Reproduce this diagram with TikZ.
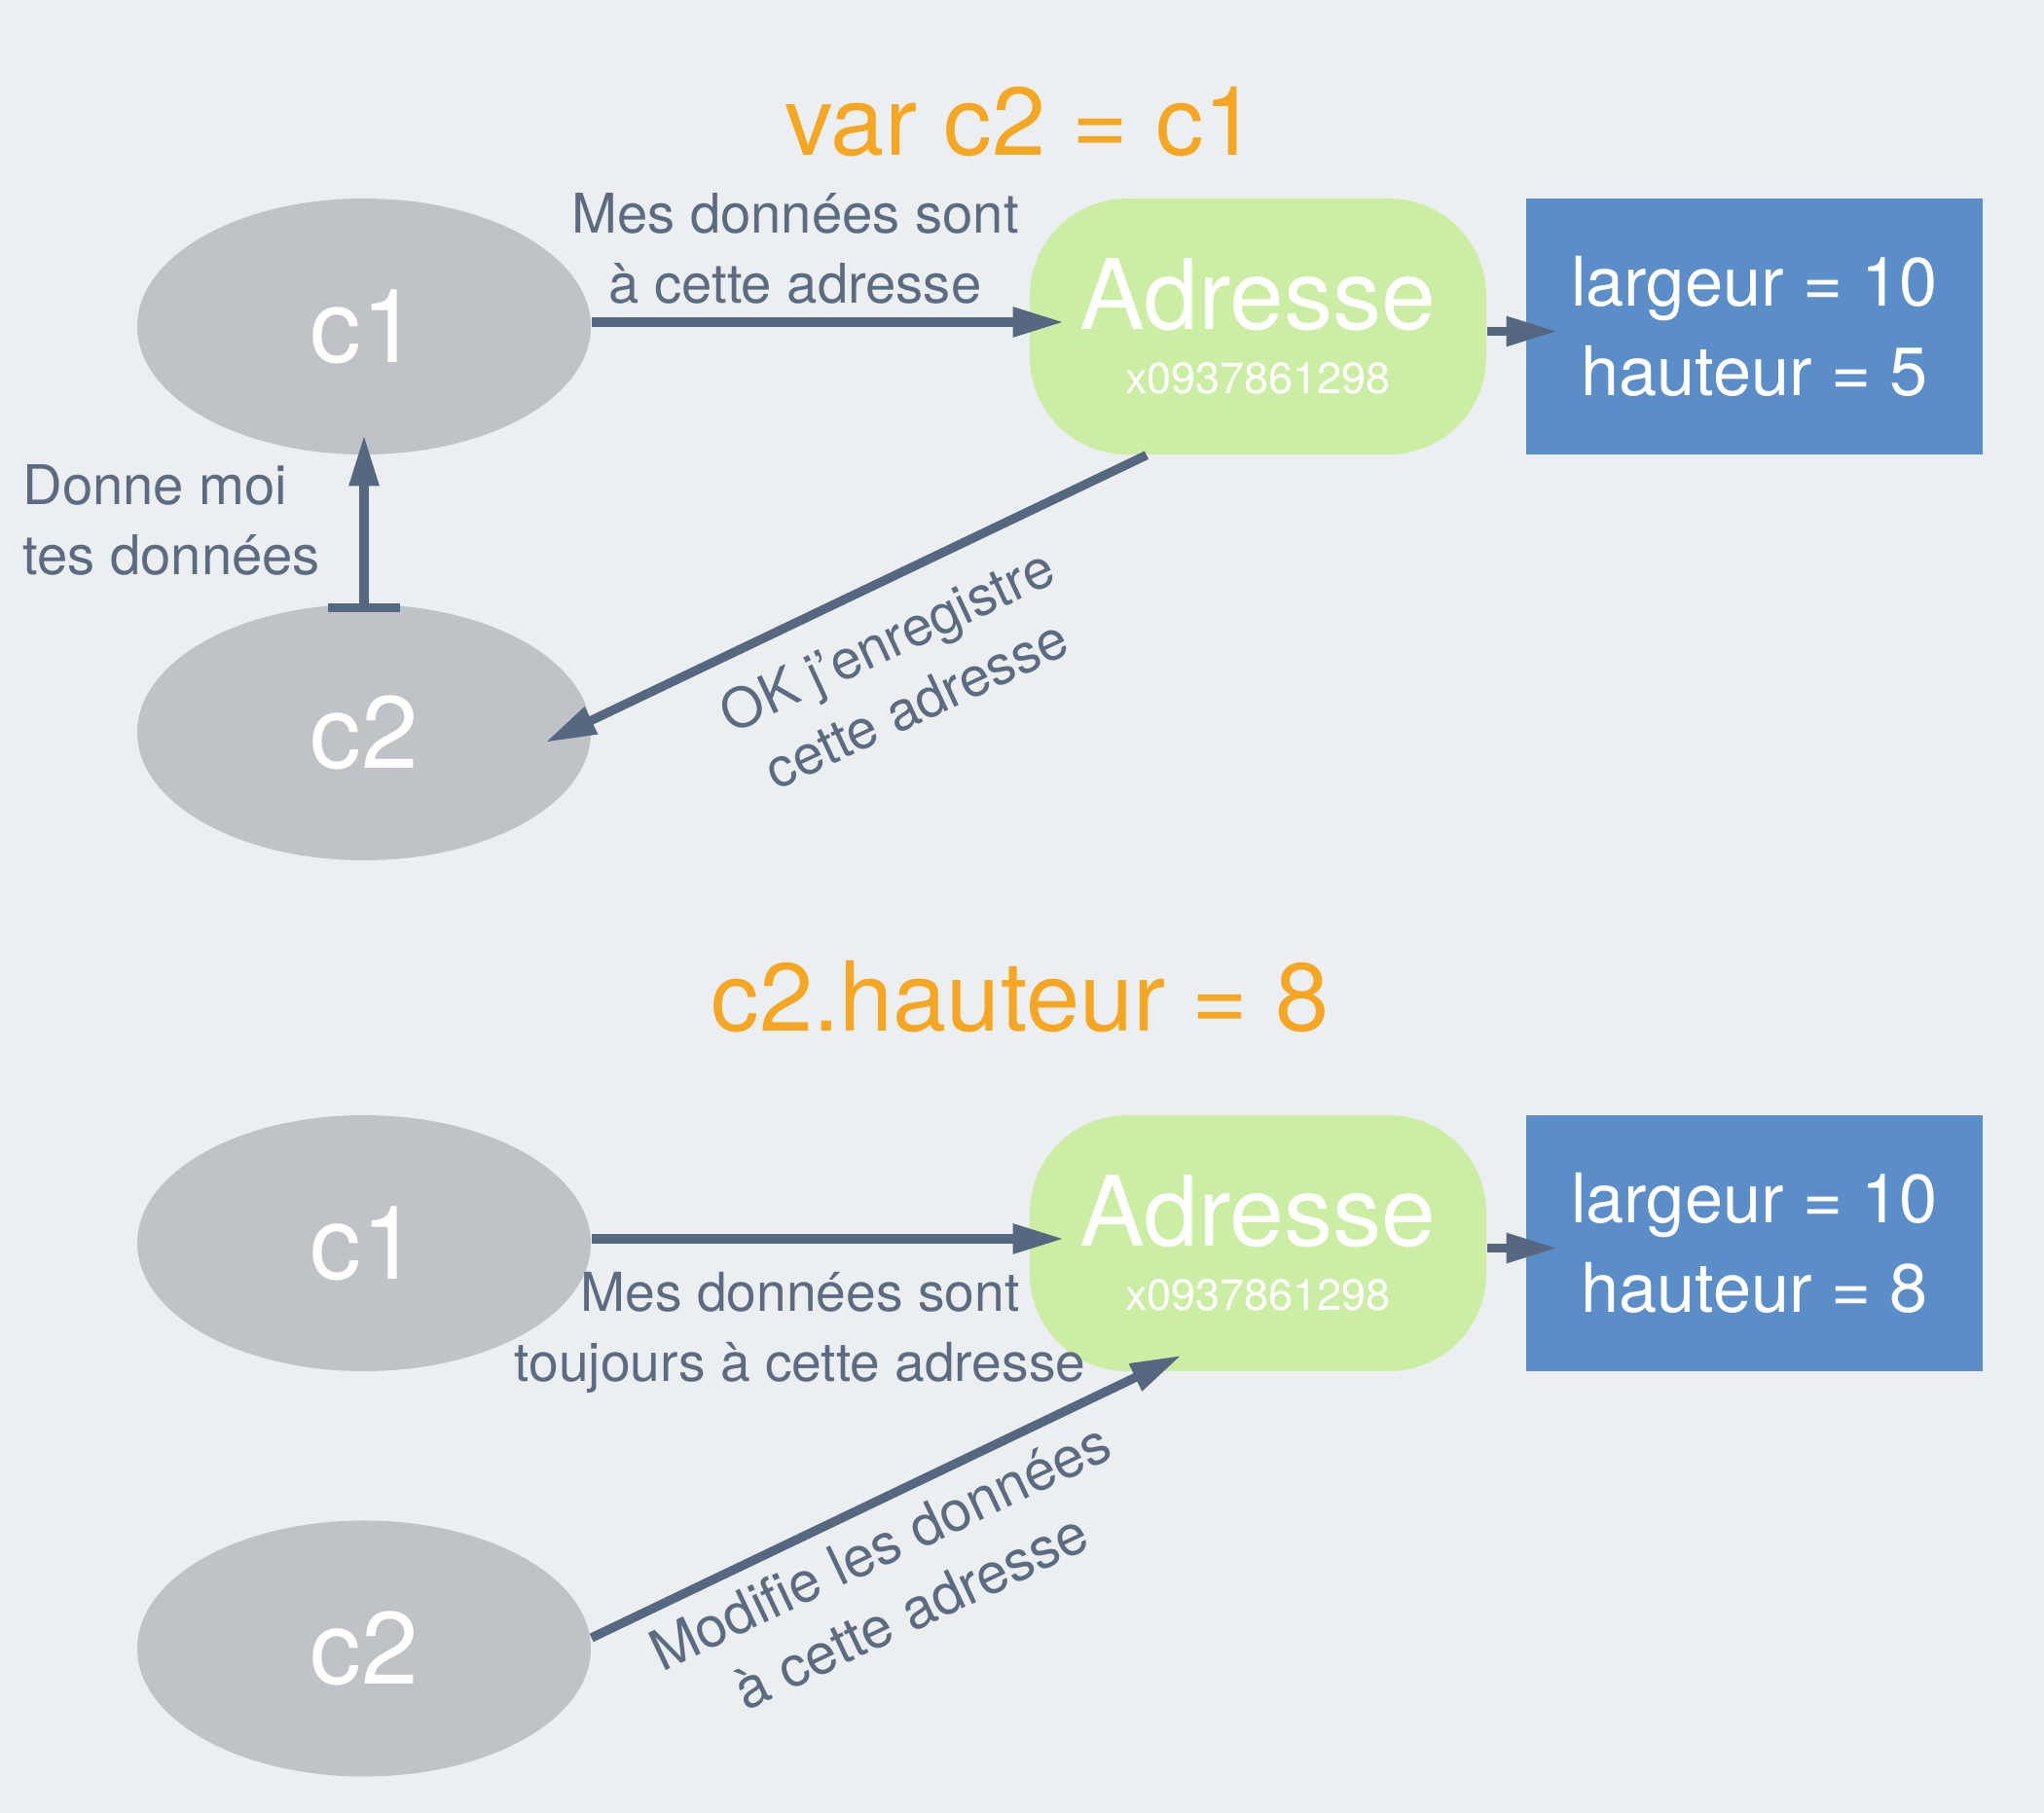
\documentclass[tikz,border=0pt]{standalone}
\usepackage{fontspec}
\setmainfont{TeX Gyre Heros}
\usepackage{tikz}
\usetikzlibrary{arrows.meta,positioning,shapes.geometric}
\definecolor{bgcol}{HTML}{ECEFF2}
\definecolor{objgray}{HTML}{BFC3C7}
\definecolor{addrgreen}{HTML}{CBEDA4}
\definecolor{valblue}{HTML}{5B8EC8}
\definecolor{codeorange}{HTML}{F5A623}
\definecolor{linkcol}{HTML}{566880}
\definecolor{msgcol}{HTML}{5C6B80}

\begin{document}
\begin{tikzpicture}[
  >={Triangle[length=15pt,width=8.2pt]},
  obj/.style={ellipse,fill=objgray,text=white,minimum width=4.66cm,minimum height=2.63cm,font=\fontsize{30}{36}\selectfont},
  addr/.style={rounded corners=1cm,fill=addrgreen,text=white,minimum width=4.69cm,minimum height=2.63cm,align=center},
  vals/.style={fill=valblue,text=white,minimum width=4.69cm,minimum height=2.63cm,align=center,font=\fontsize{20}{26}\selectfont},
  code/.style={text=codeorange,font=\fontsize{28.2}{33}\selectfont},
  msg/.style={text=msgcol,align=center,font=\fontsize{16}{20.5}\selectfont},
  link/.style={->,draw=linkcol,fill=linkcol,line width=2.65pt}
]
\fill[bgcol] (0,0) rectangle (21,-18.63);
\useasboundingbox (0,0) rectangle (21,-18.63);
% var c2 = c1
\node[code] (copy) at (10.49,-1.25) {var c2 = c1};
\node[obj] (c1a) at (3.74,-3.355) {c1};
\node[obj] (c2a) at (3.74,-7.525) {c2};
\node[addr] (adra) at (12.925,-3.355) {\fontsize{28.5}{18.5}\selectfont Adresse\\[6.8pt]\fontsize{12.8}{18.5}\selectfont x0937861298};
\node[vals] (valsa) at (18.025,-3.355) {largeur = 10\\hauteur = 5};
\node[msg] (sendmsg) at (8.17,-2.55) {Mes données sont\\à cette adresse};
\node[msg,align=left,anchor=west] (askmsg) at (0.11,-5.34) {Donne moi\\tes données};
\node[msg,rotate=25] (okmsg) at (9.26,-6.90) {OK j’enregistre\\cette adresse};
% c2.hauteur = 8
\node[code] (change) at (10.48,-10.24) {c2.hauteur = 8};
\node[obj] (c1b) at (3.74,-12.775) {c1};
\node[obj] (c2b) at (3.74,-16.94) {c2};
\node[addr] (adrb) at (12.925,-12.775) {\fontsize{28.5}{18.5}\selectfont Adresse\\[6.8pt]\fontsize{12.8}{18.5}\selectfont x0937861298};
\node[vals] (valsb) at (18.025,-12.775) {largeur = 10\\hauteur = 8};
\node[msg,font=\fontsize{15.7}{20.5}\selectfont] (keepmsg) at (8.22,-13.69) {Mes données sont\\toujours à cette adresse};
\node[msg,rotate=25.4,font=\fontsize{16.5}{21}\selectfont] (editmsg) at (9.20,-16.22) {Modifie les données\\à cette adresse};

\draw[link] ([yshift=0.045cm]c1a.east) -- ([xshift=0.36cm,yshift=0.045cm]adra.west);
\draw[link,{Bar[width=21pt]}-{Triangle[length=15pt,width=8.2pt]}] ([yshift=-0.09cm]c2a.north) -- ([yshift=0.21cm]c1a.south);
\draw[link] ([xshift=-1.145cm]adra.south) -- ([xshift=1.86cm,yshift=-0.105cm]c2a.center);
\draw[link] ([yshift=0.045cm]c1b.east) -- ([xshift=0.36cm,yshift=0.045cm]adrb.west);
\draw[link] ([yshift=0.11cm]c2b.east) -- ([xshift=-0.785cm,yshift=0.17cm]adrb.south);
\foreach \s in {a,b}
  \draw[link] ([yshift=-0.05cm]adr\s.east) -- ([xshift=0.33cm,yshift=-0.05cm]vals\s.west);
\end{tikzpicture}
\end{document}
